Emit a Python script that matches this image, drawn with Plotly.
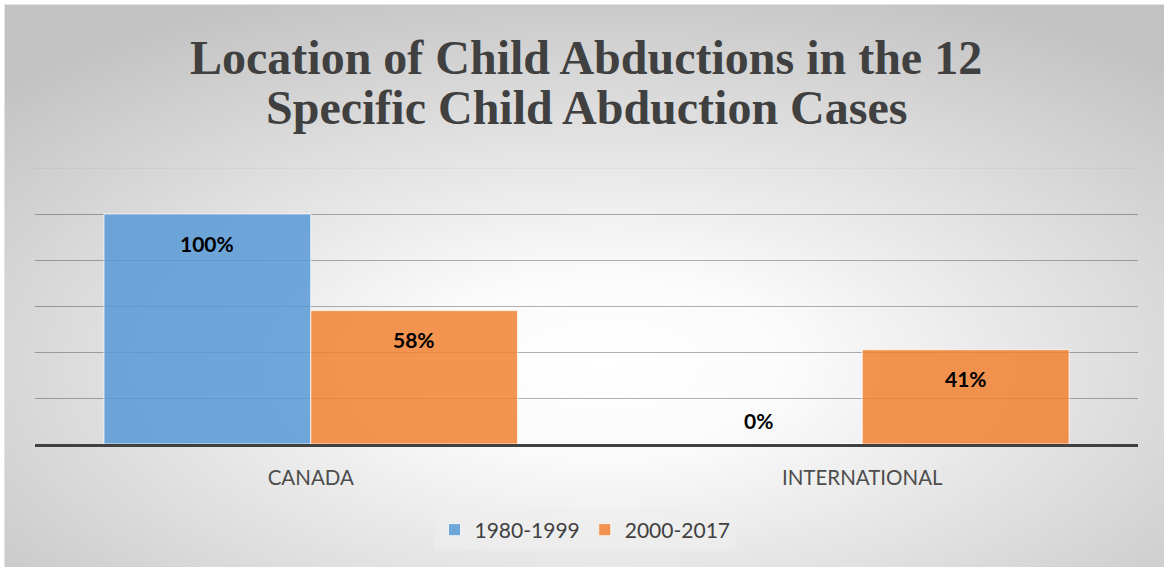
import base64
import plotly.graph_objects as go

# Chart data
categories = ["CANADA", "INTERNATIONAL"]
series_names = ["1980-1999", "2000-2017"]
values_1980_1999 = [1.00, 0.00]
values_2000_2017 = [0.58, 0.41]
title_lines = ["Location of Child Abductions in the 12", "Specific Child Abduction Cases"]

W, H = 1164, 567
M_L, M_R, M_T, M_B = 35, 26, 168, 123
PW = W - M_L - M_R
PH = H - M_T - M_B

colors = ["rgba(86,152,214,0.84)", "rgba(241,127,48,0.84)"]

# Radial-gradient backdrop with a thin frame, drawn as an SVG image
svg = f"""<svg xmlns="http://www.w3.org/2000/svg" width="{W}" height="{H}" viewBox="0 0 {W} {H}" preserveAspectRatio="none">
<defs>
<radialGradient id="bg" cx="0.52" cy="0.64" r="0.72" fx="0.52" fy="0.64">
<stop offset="0" stop-color="#ffffff"/>
<stop offset="0.22" stop-color="#fbfbfb"/>
<stop offset="1" stop-color="#c2c2c2"/>
</radialGradient>
</defs>
<rect x="0" y="0" width="{W}" height="{H}" fill="#ffffff"/>
<rect x="4" y="4" width="{W-4}" height="{H-4}" fill="url(#bg)"/>
<path d="M4.5 {H} V4.5 H{W}" fill="none" stroke="#e4e4e4" stroke-width="1"/>
</svg>"""
bg_src = "data:image/svg+xml;base64," + base64.b64encode(svg.encode()).decode()

fig = go.Figure()
for name, vals, col in zip(series_names, [values_1980_1999, values_2000_2017], colors):
    fig.add_trace(go.Bar(
        x=categories, y=vals, name=name,
        marker=dict(color=col, line=dict(color="rgba(255,255,255,0.75)", width=1)),
        hoverinfo="skip",
    ))

# Value labels inside the top of each bar (above the baseline for zero values)
bar_w = PW / len(categories) * 0.75 / 2
annotations = []
for si, vals in enumerate([values_1980_1999, values_2000_2017]):
    for cat, v in zip(categories, vals):
        annotations.append(dict(
            x=cat, y=v, xref="x", yref="y",
            xshift=(si - 0.5) * bar_w,
            yshift=-29 if v > 0.05 else 24,
            text=f"<b>{round(v * 100)}%</b>", showarrow=False,
            font=dict(family="Lato", size=21, color="#000000"),
            xanchor="center", yanchor="middle",
        ))

title_y_px = [57, 108]
for line, ypx in zip(title_lines, title_y_px):
    annotations.append(dict(
        x=(586 - M_L) / PW, y=(H - M_B - ypx) / PH, xref="paper", yref="paper",
        text=f"<b>{line}</b>", showarrow=False,
        font=dict(family="Liberation Serif", size=48, color="#404040"),
        xanchor="center", yanchor="middle",
    ))

fig.update_layout(
    width=W, height=H,
    margin=dict(l=M_L, r=M_R, t=M_T, b=M_B, pad=0),
    paper_bgcolor="#ffffff", plot_bgcolor="rgba(0,0,0,0)",
    barmode="group", bargap=0.25, bargroupgap=0,
    showlegend=True,
    legend=dict(
        orientation="h", x=(585 - M_L) / PW, xanchor="center",
        y=(H - M_B - 530) / PH, yanchor="middle",
        bgcolor="rgba(238,238,238,0.55)",
        font=dict(family="Lato", size=21, color="#404040"),
        itemclick=False, itemdoubleclick=False,
    ),
    images=[dict(
        source=bg_src, xref="paper", yref="paper",
        x=-M_L / PW, y=(H - M_B) / PH, sizex=W / PW, sizey=H / PH,
        xanchor="left", yanchor="top", sizing="stretch", layer="below",
    )],
    annotations=annotations,
    shapes=[dict(
        type="line", xref="paper", yref="y", x0=0, x1=1, y0=1.2, y1=1.2,
        line=dict(color="rgba(0,0,0,0.07)", width=1), layer="below",
    )],
    xaxis=dict(
        showline=True, linecolor="#404040", linewidth=3,
        showgrid=False, ticks="", ticklabelstandoff=13,
        tickfont=dict(family="Lato", size=20.5, color="#4d4d4d"),
        fixedrange=True,
    ),
    yaxis=dict(
        range=[0, 1.2], tickvals=[0.2, 0.4, 0.6, 0.8, 1.0],
        showgrid=True, gridcolor="rgba(0,0,0,0.3)", gridwidth=1,
        zeroline=False, showticklabels=False, showline=False,
        fixedrange=True,
    ),
)

fig.write_html("out.html", config={"displayModeBar": False})
